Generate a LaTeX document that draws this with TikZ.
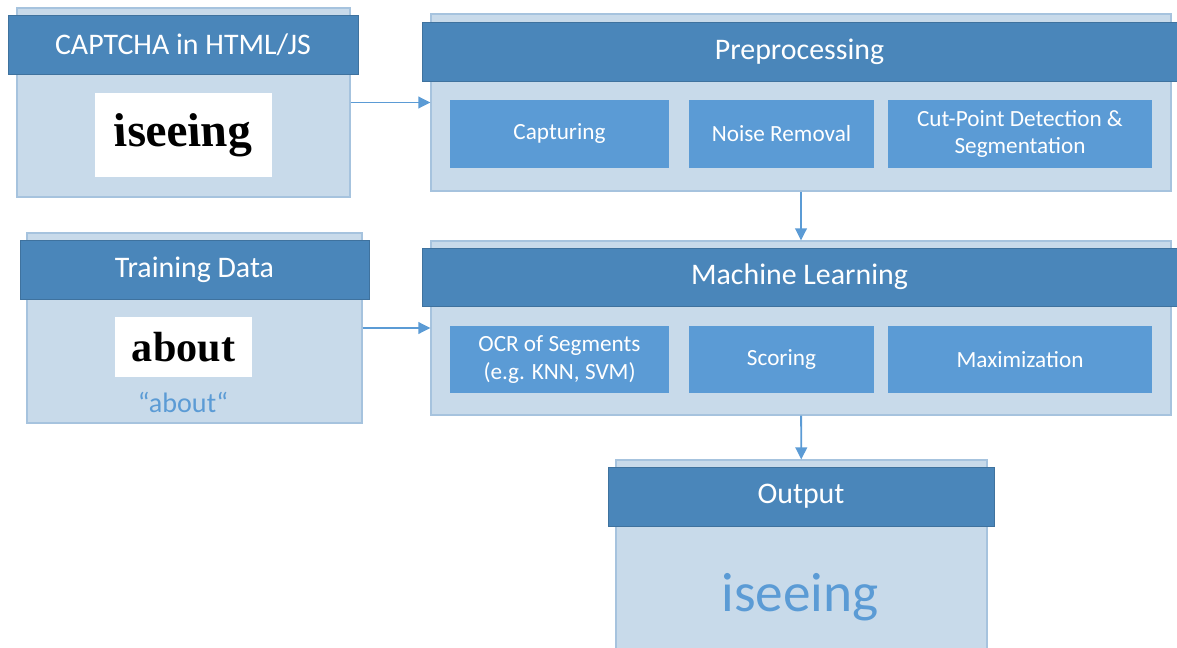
\documentclass[tikz,border=0pt]{standalone}
\usepackage{fontspec}
\setmainfont{Carlito}
\newfontfamily\captchafont{Liberation Serif}
\usetikzlibrary{arrows.meta,positioning}

\definecolor{headblue}{RGB}{74,134,186}
\definecolor{panelfill}{RGB}{200,218,234}
\definecolor{panelline}{RGB}{166,195,222}
\definecolor{stepblue}{RGB}{91,155,213}

\begin{document}
\begin{tikzpicture}[
    panel/.style={draw=panelline, fill=panelfill, line width=0.6pt, rectangle, inner sep=0pt},
    header/.style={draw=headblue!85!black, fill=headblue, line width=0.4pt, rectangle, text=white,
        font=\fontsize{17}{20}\selectfont, minimum height=1.18cm, inner sep=0pt},
    stepbox/.style={fill=stepblue, rectangle, text=white, font=\fontsize{13.2}{15.5}\selectfont,
        align=center, minimum height=1.36cm, inner sep=0pt},
    picture/.style={fill=white, rectangle, inner sep=0pt, text=black},
    arrow/.style={-{Triangle[length=2.4mm, width=2.3mm]}, line width=1.1pt, stepblue}
]
\clip (0,0) rectangle (23.54,-12.96);

% Inputs
\node[panel, minimum width=6.66cm, minimum height=3.78cm] (captchaBox) at (3.67,-2.05) {};
\node[header, minimum width=7.0cm] (captchaHead) at (3.66,-0.89) {CAPTCHA in HTML/JS};
\node[picture, minimum width=3.54cm, minimum height=1.68cm] (captchaImg) at (3.67,-2.70)
    {\captchafont\bfseries\fontsize{27}{27}\selectfont\addfontfeature{FakeSlant=-0.05}iseeing};

\node[panel, minimum width=6.70cm, minimum height=3.80cm] (trainBox) at (3.89,-6.56) {};
\node[header, minimum width=6.98cm] (trainHead) at (3.89,-5.39) {Training Data};
\node[picture, minimum width=2.74cm, minimum height=1.2cm] (trainImg) at (3.67,-6.94)
    {\captchafont\bfseries\fontsize{24}{24}\selectfont about};
\node[text=stepblue, font=\fontsize{16}{18}\selectfont] (trainLabel) at (3.66,-8.04) {“about“};

% Preprocessing
\node[panel, minimum width=14.8cm, minimum height=3.54cm] (preBox) at (16.02,-2.05) {};
\node[header, minimum width=15.1cm] (preHead) at (15.99,-1.03) {Preprocessing};
\node[stepbox, minimum width=4.38cm] (capture) at (11.19,-2.68) {Capturing};
\node[stepbox, minimum width=3.70cm] (noise) at (15.63,-2.68) {Noise Removal};
\node[stepbox, minimum width=5.28cm] (cutpoint) at (20.40,-2.68) {Cut-Point Detection \&\\Segmentation};

% Machine learning
\node[panel, minimum width=14.8cm, minimum height=3.48cm] (mlBox) at (16.02,-6.56) {};
\node[header, minimum width=15.1cm, minimum height=1.16cm] (mlHead) at (15.99,-5.54) {Machine Learning};
\node[stepbox, minimum width=4.38cm, minimum height=1.34cm] (ocr) at (11.19,-7.19) {OCR of Segments\\(e.g. KNN, SVM)};
\node[stepbox, minimum width=3.70cm, minimum height=1.34cm] (scoring) at (15.63,-7.19) {Scoring};
\node[stepbox, minimum width=5.28cm, minimum height=1.34cm] (maxim) at (20.40,-7.19) {Maximization};

% Output
\node[panel, minimum width=7.42cm, minimum height=4.0cm] (outBox) at (16.03,-11.2) {};
\node[header, minimum width=7.72cm] (outHead) at (16.02,-9.93) {Output};
\node[text=stepblue, font=\fontsize{31.5}{35}\selectfont] (outText) at (16.0,-11.94) {iseeing};

% Arrows
\draw[arrow] (captchaBox) -- (preBox);
\draw[arrow] (trainBox) -- (mlBox);
\draw[arrow] (preBox) -- (mlBox);
\draw[arrow] (mlBox) -- (outBox);

\end{tikzpicture}
\end{document}
